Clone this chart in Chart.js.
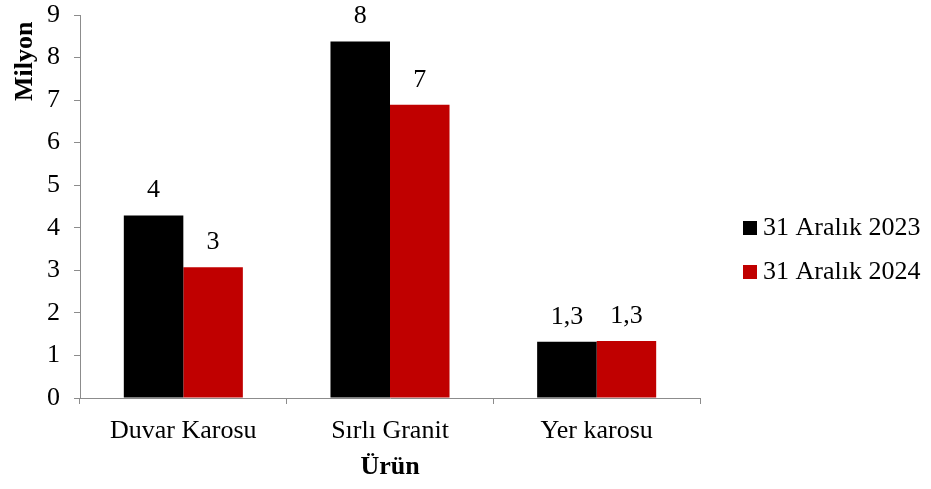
<!DOCTYPE html>
<html>
<head>
<meta charset="utf-8">
<script src="https://cdn.jsdelivr.net/npm/chart.js@4.4.1/dist/chart.umd.min.js"></script>
<style>
  body { margin: 0; background: #fff; }
  #wrap { width: 931px; height: 489px; }
</style>
</head>
<body>
<div id="wrap"><canvas id="urunChart"></canvas></div>
<script>
const categories = ['Duvar Karosu', 'Sırlı Granit', 'Yer karosu'];
const values2023 = [4.29, 8.38, 1.32];
const values2024 = [3.07, 6.89, 1.34];
const seriesNames = ['31 Aralık 2023', '31 Aralık 2024'];
const seriesColors = ['#000000', '#c00000'];
const yTicks = [0, 1, 2, 3, 4, 5, 6, 7, 8, 9];

const serif = "'Liberation Serif', 'Times New Roman', serif";

// bar value labels, Excel style (comma decimal)
function formatValue(v) {
    return v.toLocaleString('tr-TR', { maximumFractionDigits: v < 2 ? 1 : 0 });
}

const valueLabels = {
    id: 'valueLabels',
    afterDatasetsDraw(chart) {
        const ctx = chart.ctx;
        ctx.save();
        ctx.font = '26px ' + serif;
        ctx.fillStyle = '#000';
        ctx.textAlign = 'center';
        ctx.textBaseline = 'middle';
        chart.data.datasets.forEach((ds, i) => {
            chart.getDatasetMeta(i).data.forEach((bar, j) => {
                ctx.fillText(formatValue(ds.data[j]), bar.x, bar.y - 25);
            });
        });
        ctx.restore();
    }
};

// legend on the right, drawn next to the plot like the Excel one
const sideLegend = {
    id: 'sideLegend',
    afterDraw(chart) {
        const ctx = chart.ctx;
        const x = chart.chartArea.right + 43;
        const midY = 250;
        ctx.save();
        ctx.font = '26px ' + serif;
        ctx.textAlign = 'left';
        ctx.textBaseline = 'middle';
        chart.data.datasets.forEach((ds, i) => {
            const y = midY + (i - 0.5) * 44;
            ctx.fillStyle = ds.backgroundColor;
            ctx.fillRect(x, y - 7, 14, 14);
            ctx.fillStyle = '#000';
            ctx.fillText(ds.label, x + 20, y);
        });
        ctx.restore();
    }
};

const data = {
    labels: categories,
    datasets: seriesNames.map((name, i) => ({
        label: name,
        data: i === 0 ? values2023 : values2024,
        backgroundColor: seriesColors[i],
        borderWidth: 0
    }))
};

const config = {
    type: 'bar',
    data: data,
    options: {
        responsive: true,
        maintainAspectRatio: false,
        animation: false,
        layout: {
            padding: { top: 0, right: 231, bottom: 0, left: 0 }
        },
        datasets: {
            bar: {
                categoryPercentage: 0.576,
                barPercentage: 1.0
            }
        },
        scales: {
            x: {
                grid: {
                    display: true,
                    drawOnChartArea: false,
                    tickLength: 6,
                    color: '#8c8c8c',
                    offset: true
                },
                border: { color: '#8c8c8c' },
                ticks: {
                    color: '#000',
                    padding: 12,
                    font: { family: serif, size: 26 }
                },
                title: {
                    display: true,
                    text: 'Ürün',
                    color: '#000',
                    padding: { top: -7.8, bottom: 6.4 },
                    font: { family: serif, size: 26, weight: 'bold' }
                }
            },
            y: {
                min: 0,
                max: 9,
                afterBuildTicks: (scale) => {
                    scale.ticks = yTicks.map(v => ({ value: v }));
                },
                afterFit: (scale) => { scale.paddingTop = 15; },
                grid: {
                    display: true,
                    drawOnChartArea: false,
                    tickLength: 6,
                    color: '#8c8c8c'
                },
                border: { color: '#8c8c8c' },
                ticks: {
                    color: '#000',
                    padding: 14,
                    font: { family: serif, size: 26 }
                },
                title: {
                    display: true,
                    text: 'Milyon ',
                    align: 'end',
                    color: '#000',
                    padding: { top: 9.5, bottom: -7.7 },
                    font: { family: serif, size: 26, weight: 'bold' }
                }
            }
        },
        plugins: {
            legend: { display: false },
            tooltip: { enabled: false }
        }
    },
    plugins: [valueLabels, sideLegend]
};

const ctx = document.getElementById('urunChart').getContext('2d');
const urunChart = new Chart(ctx, config);
</script>
</body>
</html>
